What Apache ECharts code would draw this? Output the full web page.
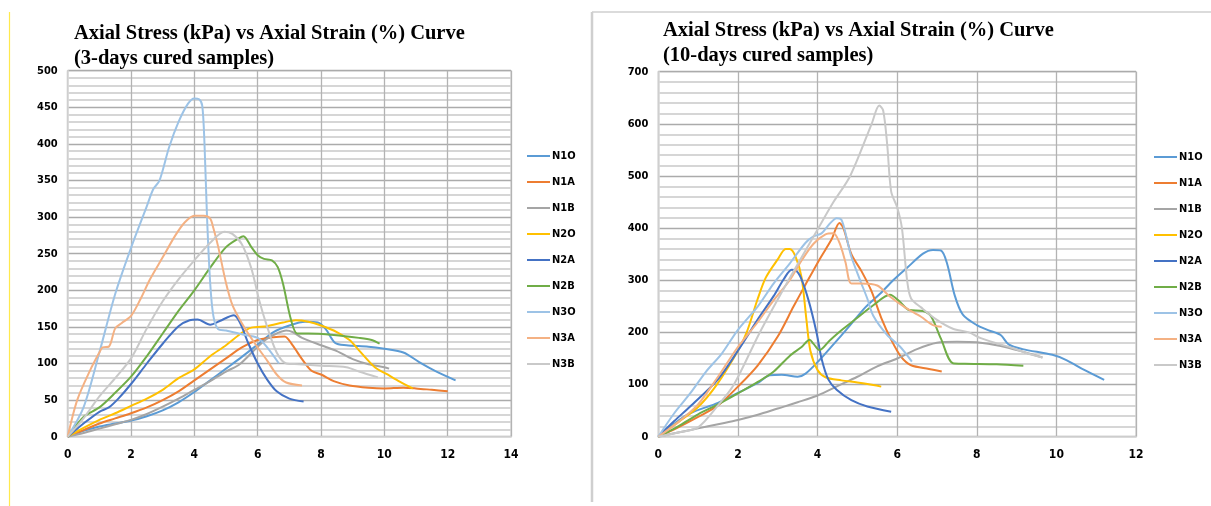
<!DOCTYPE html>
<html>
<head>
<meta charset="utf-8">
<script src="https://cdn.jsdelivr.net/npm/echarts@6/dist/echarts.min.js"></script>
<style>
html,body{margin:0;padding:0;background:#fff;}
#chart{width:1211px;height:506px;}
</style>
</head>
<body>
<div id="chart"></div>
<script>
// ---------- Data: 3-days cured samples (strain %, stress kPa) ----------
const names = ['N1O','N1A','N1B','N2O','N2A','N2B','N3O','N3A','N3B'];
const colors = ['#5B9BD5','#ED7D31','#A5A5A5','#FFC000','#4472C4','#70AD47','#9DC3E6','#F4B183','#C9C9C9'];

const d3_N1O = [[0,0],[0.5,8],[1,14],[1.5,18],[2,22],[2.5,28],[3,36],[3.5,47],[4,61],[4.5,77],[5,93],[5.5,109],[6,126],[6.5,143],[7,152],[7.5,157],[7.9,156],[8.15,147],[8.45,128],[8.8,125],[9.5,123],[10,120],[10.6,115],[11.1,102],[11.6,90],[12.25,77]];
const d3_N1A = [[0,0],[0.5,9],[1,18],[1.5,25],[2,32],[2.5,40],[3,50],[3.5,62],[4,77],[4.5,92],[5,107],[5.5,122],[6,132],[6.5,136],[6.85,137],[7.1,125],[7.4,106],[7.7,90],[8.0,85],[8.4,76],[8.9,70],[9.5,67],[10,66],[10.6,67],[11,66],[11.5,64],[12,62]];
const d3_N1B = [[0,0],[0.5,5],[1,11],[1.5,17],[2,23],[2.5,31],[3,41],[3.5,52],[4,64],[4.5,76],[5,89],[5.4,98],[5.7,110],[6,123],[6.3,134],[6.6,141],[6.9,145],[7.1,143],[7.4,135],[8,125],[8.5,117],[9,106],[9.5,99],[10,95],[10.15,93]];
const d3_N2O = [[0,0],[0.5,12],[1,23],[1.5,32],[2,42],[2.5,52],[3,64],[3.5,80],[4,92],[4.5,110],[5,125],[5.5,142],[5.8,149],[6.3,151],[6.8,156],[7.2,159],[7.6,157],[8.0,152],[8.5,143],[8.9,132],[9.2,118],[9.7,95],[10.1,85],[10.5,75],[10.9,66]];
const d3_N2A = [[0,0],[0.5,18],[1,34],[1.3,40],[1.6,52],[2,72],[2.5,100],[3,127],[3.5,151],[3.85,159],[4.1,160],[4.5,153],[4.8,158],[5.25,166],[5.45,155],[5.7,128],[6,100],[6.3,78],[6.6,62],[7.0,52],[7.45,48]];
const d3_N2B = [[0,0],[0.5,27],[1,40],[1.5,60],[2,82],[2.5,110],[3,141],[3.5,172],[4,200],[4.5,231],[5,259],[5.4,271],[5.55,274],[5.8,259],[6,248],[6.2,243],[6.45,241],[6.63,232],[6.8,209],[7.05,160],[7.25,141],[7.6,141],[8.4,139],[9.2,135],[9.6,132],[9.85,127]];
const d3_N3O = [[0,0],[0.5,40],[1,115],[1.5,195],[2,258],[2.5,315],[2.7,338],[2.9,350],[3.2,395],[3.5,430],[3.8,455],[4.0,462],[4.15,461],[4.25,452],[4.32,400],[4.4,300],[4.5,210],[4.6,165],[4.75,147],[5.0,145],[5.5,140],[6.0,135],[6.3,122],[6.67,100]];
const d3_N3A = [[0,0],[0.3,50],[0.7,90],[1.0,115],[1.1,122],[1.3,123],[1.5,148],[1.7,155],[2.0,165],[2.3,188],[2.6,215],[3.0,245],[3.4,275],[3.7,293],[4.0,302],[4.3,302],[4.5,298],[4.6,285],[4.75,260],[5.0,210],[5.2,180],[5.5,155],[5.9,128],[6.3,104],[6.6,85],[6.9,74],[7.4,70]];
const d3_N3B = [[0,0],[0.5,25],[1,55],[1.5,80],[2,107],[2.5,148],[3,185],[3.5,215],[4,241],[4.5,265],[4.95,280],[5.2,277],[5.5,263],[5.8,230],[6.05,186],[6.3,150],[6.6,115],[6.9,100],[7.3,99],[8.0,97],[8.8,95],[9.2,89],[9.8,81]];

// ---------- Data: 10-days cured samples ----------
const d10_N1O = [[0,0],[0.4,25],[0.8,45],[1.5,65],[2,84],[2.5,103],[2.8,118],[3.1,119],[3.5,115],[3.7,121],[4.05,147],[4.4,177],[4.8,212],[5.2,248],[5.57,274],[5.9,300],[6.25,324],[6.65,351],[6.9,358],[7.1,357],[7.25,333],[7.45,270],[7.65,234],[8.0,214],[8.3,204],[8.6,195],[8.8,177],[9.15,168],[9.9,157],[10.25,147],[10.7,128],[11.2,109]];
const d10_N1A = [[0,0],[0.5,18],[1,38],[1.5,60],[2,96],[2.5,137],[3,192],[3.4,250],[3.7,292],[4.05,340],[4.35,378],[4.55,410],[4.65,400],[4.85,350],[5.1,318],[5.35,280],[5.6,228],[5.85,186],[6.1,153],[6.35,137],[6.8,130],[7.12,125]];
const d10_N1B = [[0,0],[0.5,8],[1,16],[1.5,24],[2,32],[2.5,42],[3,54],[3.5,66],[4,79],[4.5,97],[5,115],[5.5,135],[6,150],[6.5,168],[7,180],[7.5,182],[8,181],[8.6,174],[9.2,162],[9.65,152]];
const d10_N2O = [[0,0],[0.5,28],[1,57],[1.47,100],[2,165],[2.22,200],[2.5,265],[2.7,305],[3.0,340],[3.2,360],[3.3,360],[3.45,345],[3.6,305],[3.72,225],[3.82,165],[4.0,128],[4.2,114],[4.6,108],[5.0,104],[5.4,99],[5.6,96]];
const d10_N2A = [[0,0],[0.4,30],[0.8,58],[1.5,110],[2,165],[2.5,225],[2.9,270],[3.15,302],[3.35,320],[3.45,319],[3.58,305],[3.78,260],[3.98,198],[4.1,150],[4.27,110],[4.48,90],[4.85,70],[5.25,58],[5.85,48]];
const d10_N2B = [[0,0],[0.5,20],[1,43],[1.5,62],[2,83],[2.5,105],[2.9,125],[3.3,155],[3.6,172],[3.8,186],[3.9,178],[4.05,166],[4.3,184],[4.6,204],[5.0,228],[5.4,252],[5.82,272],[6.05,260],[6.3,243],[6.65,241],[6.85,231],[7.1,188],[7.4,141],[7.7,140],[8.5,139],[9.17,136]];
const d10_N3O = [[0,0],[0.4,45],[0.8,83],[1.2,125],[1.6,160],[2,205],[2.5,250],[2.9,294],[3.3,332],[3.7,372],[3.9,384],[4.1,390],[4.3,408],[4.48,419],[4.6,416],[4.72,385],[4.85,345],[5.07,300],[5.25,265],[5.4,232],[5.75,195],[6.07,173],[6.37,144]];
const d10_N3A = [[0,0],[0.5,28],[1,62],[1.5,115],[2,172],[2.5,220],[2.9,262],[3.3,300],[3.6,338],[3.9,370],[4.2,388],[4.4,390],[4.55,372],[4.7,335],[4.85,294],[5.1,294],[5.5,290],[5.8,270],[6.2,248],[6.6,230],[6.9,214],[7.12,211]];
const d10_N3B = [[0,0],[0.5,8],[1,18],[1.5,60],[1.9,100],[2.55,200],[3.27,300],[4.02,400],[4.4,450],[4.82,500],[5.36,600],[5.55,635],[5.65,625],[5.75,560],[5.85,470],[6.0,440],[6.12,400],[6.25,300],[6.35,265],[6.6,248],[7.0,224],[7.4,207],[7.8,200],[8.1,189],[8.5,179],[8.9,170],[9.3,159],[9.65,152]];

const set3 = [d3_N1O,d3_N1A,d3_N1B,d3_N2O,d3_N2A,d3_N2B,d3_N3O,d3_N3A,d3_N3B];
const set10 = [d10_N1O,d10_N1A,d10_N1B,d10_N2O,d10_N2A,d10_N2B,d10_N3O,d10_N3A,d10_N3B];

const titleMain = 'Axial Stress (kPa) vs Axial Strain (%) Curve';
const titleSub3 = '(3-days cured samples)';
const titleSub10 = '(10-days cured samples)';

const labelFont = "'Liberation Sans Narrow','DejaVu Sans Condensed',sans-serif";
const titleFont = "'Liberation Serif','Times New Roman',serif";

function xAxisCfg(gi, max){
  return {
    gridIndex: gi, type: 'value', min: 0, max: max, interval: 2,
    axisLine: {show: true, lineStyle: {color: '#d9d9d9', width: 1.5}},
    axisTick: {show: false},
    axisLabel: {color: '#000', fontFamily: labelFont, fontWeight: 'bold', fontSize: 12, margin: 12},
    splitLine: {show: true, lineStyle: {color: '#b3b3b3', width: 1.3}}
  };
}
function yAxisCfg(gi, max, interval){
  return {
    gridIndex: gi, type: 'value', min: 0, max: max, interval: interval,
    axisLine: {show: true, lineStyle: {color: '#d9d9d9', width: 1.5}},
    axisTick: {show: false},
    axisLabel: {color: '#000', fontFamily: labelFont, fontWeight: 'bold', fontSize: 11, margin: 10},
    splitLine: {show: true, lineStyle: {color: '#ababab', width: 1.3}},
    minorTick: {show: false, splitNumber: 5},
    minorSplitLine: {show: true, lineStyle: {color: '#d6d6d6', width: 1.8}}
  };
}

const series = [];
names.forEach((n, i) => {
  series.push({name: n, type: 'line', xAxisIndex: 0, yAxisIndex: 0, data: set3[i],
    symbol: 'none', smooth: 0.3, lineStyle: {width: 2, color: colors[i]}, itemStyle: {color: colors[i]}});
});
names.forEach((n, i) => {
  series.push({name: n, type: 'line', xAxisIndex: 1, yAxisIndex: 1, data: set10[i],
    symbol: 'none', smooth: 0.3, lineStyle: {width: 2, color: colors[i]}, itemStyle: {color: colors[i]}});
});

function legendCfg(left, top){
  return {
    orient: 'vertical', left: left, top: top, data: names,
    icon: 'rect', itemWidth: 23, itemHeight: 2, itemGap: 12,
    selectedMode: false,
    textStyle: {color: '#000', fontFamily: labelFont, fontWeight: 'bold', fontSize: 11, lineHeight: 14, padding: [0,0,0,-3]}
  };
}

const chart = echarts.init(document.getElementById('chart'), null, {renderer: 'canvas'});
chart.setOption({
  animation: false,
  backgroundColor: '#fff',
  title: [
    {text: titleMain + '\n' + titleSub3, left: 69, top: 16,
     textStyle: {fontFamily: titleFont, fontWeight: 'bold', fontSize: 20.5, lineHeight: 25, color: '#000'}},
    {text: titleMain + '\n' + titleSub10, left: 658, top: 13,
     textStyle: {fontFamily: titleFont, fontWeight: 'bold', fontSize: 20.5, lineHeight: 25, color: '#000'}}
  ],
  legend: [legendCfg(522, 144), legendCfg(1149, 145)],
  grid: [
    {left: 67.7, top: 70.7, width: 443.3, height: 366, show: true, borderColor: '#d9d9d9', borderWidth: 1.5, backgroundColor: 'transparent'},
    {left: 658.3, top: 71.7, width: 477.7, height: 365, show: true, borderColor: '#d9d9d9', borderWidth: 1.5, backgroundColor: 'transparent'}
  ],
  xAxis: [xAxisCfg(0, 14), xAxisCfg(1, 12)],
  yAxis: [yAxisCfg(0, 500, 50), yAxisCfg(1, 700, 100)],
  series: series,
  graphic: [
    {type: 'line', shape: {x1: 9.5, y1: 12, x2: 9.5, y2: 506}, style: {stroke: '#ffe94d', lineWidth: 1.2}, silent: true},
    {type: 'line', shape: {x1: 592, y1: 12, x2: 592, y2: 502}, style: {stroke: '#cfcfcf', lineWidth: 2.5}, silent: true},
    {type: 'line', shape: {x1: 592, y1: 12, x2: 1211, y2: 12}, style: {stroke: '#cfcfcf', lineWidth: 1.5}, silent: true}
  ]
});
</script>
</body>
</html>
